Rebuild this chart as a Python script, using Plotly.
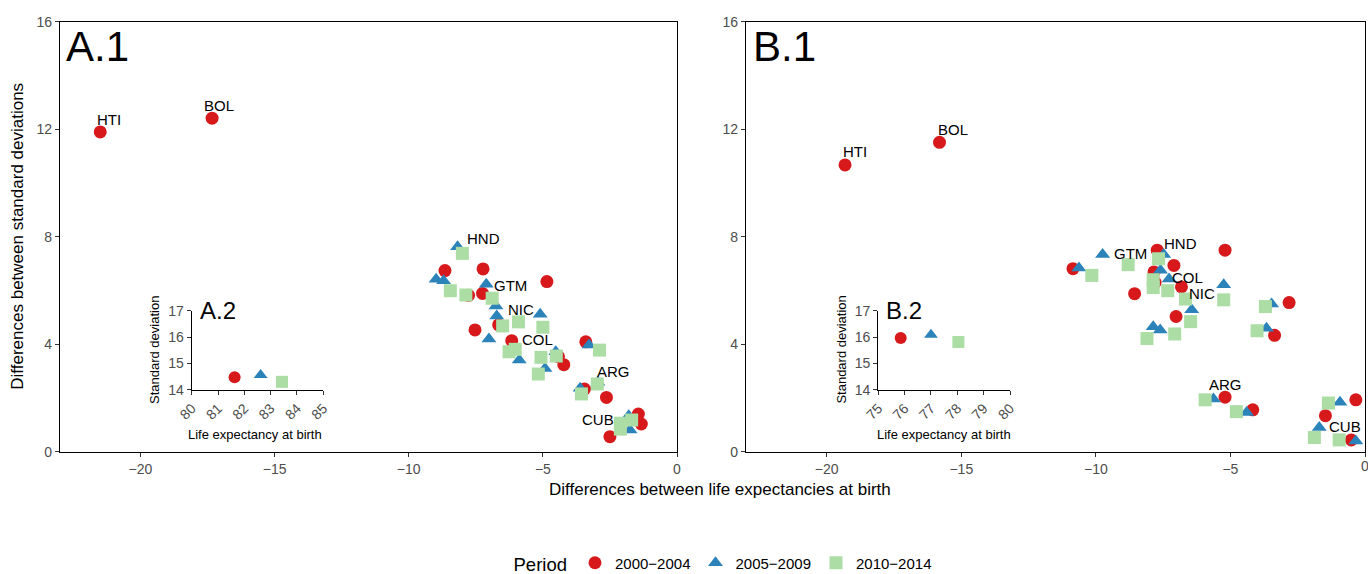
import plotly.graph_objects as go

# ---------------- data ----------------
# Panel A.1 (differences: LE vs SD), three periods
a_2000_x = [-21.5, -17.33, -8.65, -7.23, -4.85, -7.77, -7.25, -6.65, -7.53, -6.16, -4.42, -4.22, -3.40, -3.45, -2.63, -1.44, -1.33, -2.50]
a_2000_y = [11.9, 12.41, 6.74, 6.80, 6.33, 5.82, 5.89, 4.72, 4.53, 4.13, 3.54, 3.24, 4.09, 2.33, 2.02, 1.40, 1.03, 0.56]
a_2005_x = [-8.18, -8.98, -8.70, -7.11, -6.75, -6.72, -5.10, -7.01, -5.88, -4.52, -4.92, -3.28, -2.95, -3.61, -1.80, -1.75]
a_2005_y = [7.63, 6.42, 6.36, 6.23, 5.42, 5.05, 5.11, 4.19, 3.41, 3.72, 3.10, 3.97, 2.58, 2.36, 1.34, 0.81]
a_2010_x = [-8.0, -8.45, -7.87, -6.89, -6.50, -5.91, -5.0, -6.26, -6.03, -5.07, -4.5, -5.17, -2.89, -2.97, -3.56, -1.69, -2.11, -2.11]
a_2010_y = [7.38, 5.99, 5.83, 5.71, 4.68, 4.83, 4.63, 3.72, 3.81, 3.51, 3.56, 2.89, 3.78, 2.52, 2.15, 1.18, 0.84, 1.06]

# Panel B.1
b_2000_x = [-19.32, -15.81, -10.85, -7.72, -7.10, -7.84, -6.82, -8.56, -5.20, -2.82, -7.02, -3.36, -5.20, -4.17, -1.47, -0.34, -0.51, -7.8]
b_2000_y = [10.67, 11.51, 6.81, 7.5, 6.93, 6.69, 6.13, 5.88, 7.5, 5.55, 5.03, 4.33, 2.03, 1.56, 1.34, 1.93, 0.44, 6.3]
b_2005_x = [-10.63, -9.75, -7.48, -7.6, -7.28, -5.25, -3.47, -6.44, -7.87, -7.61, -3.66, -5.63, -4.40, -0.93, -1.70, -0.34]
b_2005_y = [6.84, 7.34, 7.34, 6.75, 6.43, 6.21, 5.5, 5.28, 4.65, 4.53, 4.59, 1.96, 1.46, 1.84, 0.90, 0.40]
b_2010_x = [-10.15, -8.80, -7.67, -7.87, -7.87, -7.33, -6.67, -5.25, -6.48, -7.07, -8.10, -3.70, -4.01, -5.94, -4.78, -1.36, -1.88, -0.96]
b_2010_y = [6.56, 6.96, 7.18, 6.4, 6.11, 5.99, 5.68, 5.65, 4.84, 4.38, 4.21, 5.4, 4.5, 1.93, 1.49, 1.81, 0.53, 0.44]

# Insets (reference country): life expectancy vs standard deviation
a2_le = [81.63, 82.62, 83.43]
a2_sd = [14.47, 14.56, 14.30]
b2_le = [75.85, 77.0, 78.04]
b2_sd = [15.96, 16.09, 15.81]

periods = ["2000\u22122004", "2005\u22122009", "2010\u22122014"]
colors = ["#D7191C", "#2B83BA", "#ABDDA4"]
symbols = ["circle", "triangle-up", "square"]

# Country labels
a_lab = ["HTI", "BOL", "HND", "GTM", "NIC", "COL", "ARG", "CUB"]
a_lab_x = [-21.19, -17.06, -7.23, -6.22, -5.82, -5.20, -2.37, -2.93]
a_lab_y = [12.37, 12.89, 7.95, 6.20, 5.30, 4.19, 2.98, 1.18]
b_lab = ["HTI", "BOL", "HND", "GTM", "COL", "NIC", "ARG", "CUB"]
b_lab_x = [-18.95, -15.32, -6.84, -8.72, -6.6, -6.06, -5.17, -0.73]
b_lab_y = [11.16, 12.0, 7.75, 7.38, 6.49, 5.9, 2.5, 0.93]

main_xticks = [-20, -15, -10, -5, 0]
main_xticktext = ["\u221220", "\u221215", "\u221210", "\u22125", "0"]
main_yticks = [0, 4, 8, 12, 16]
a2_xticks = [80, 81, 82, 83, 84, 85]
b2_xticks = [75, 76, 77, 78, 79, 80]
inset_yticks = [14, 15, 16, 17]

FONT = "Liberation Sans, Arial, sans-serif"
W, H = 1368, 574

fig = go.Figure()

panel_data = [
    ("x", "y", [(a_2000_x, a_2000_y), (a_2005_x, a_2005_y), (a_2010_x, a_2010_y)], True),
    ("x2", "y2", [(b_2000_x, b_2000_y), (b_2005_x, b_2005_y), (b_2010_x, b_2010_y)], False),
]
for xa, ya, series, show in panel_data:
    for i, (xs, ys) in enumerate(series):
        fig.add_trace(go.Scatter(
            x=xs, y=ys, mode="markers", xaxis=xa, yaxis=ya,
            name=periods[i], legendgroup=periods[i], showlegend=show,
            marker=dict(color=colors[i], symbol=symbols[i], size=13, line=dict(width=0)),
            cliponaxis=False,
        ))

for xa, ya, les, sds in [("x3", "y3", a2_le, a2_sd), ("x4", "y4", b2_le, b2_sd)]:
    for i in range(3):
        fig.add_trace(go.Scatter(
            x=[les[i]], y=[sds[i]], mode="markers", xaxis=xa, yaxis=ya,
            showlegend=False, legendgroup=periods[i],
            marker=dict(color=colors[i], symbol=symbols[i], size=12, line=dict(width=0)),
            cliponaxis=False,
        ))

# domains (paper fractions)
ax_a = [60 / W, 677 / W]
ax_b = [746 / W, 1365 / W]
ax_y = [(H - 451.7) / H, (H - 21.7) / H]
in_a = [191.7 / W, 323.3 / W]
in_b = [878.3 / W, 1010 / W]
in_y = [(H - 389.7) / H, (H - 310.7) / H]

main_axis = dict(showline=True, linecolor="black", linewidth=1.3, mirror=True,
                 ticks="outside", ticklen=4, tickcolor="#333333", tickwidth=1,
                 showgrid=False, zeroline=False, automargin=False, ticklabeloverflow="allow",
                 tickfont=dict(family=FONT, size=14, color="#4D4D4D"))
inset_axis = dict(showline=True, linecolor="black", linewidth=1.3, mirror=False,
                  ticks="outside", ticklen=4, tickcolor="#333333", tickwidth=1,
                  showgrid=False, zeroline=False, automargin=False, ticklabeloverflow="allow",
                  tickfont=dict(family=FONT, size=14, color="#4D4D4D"))

fig.update_layout(
    width=W, height=H,
    margin=dict(l=0, r=0, t=0, b=0, autoexpand=False),
    paper_bgcolor="white", plot_bgcolor="rgba(0,0,0,0)",
    font=dict(family=FONT, color="black"),
    xaxis=dict(domain=ax_a, range=[-23, 0], tickvals=main_xticks, ticktext=main_xticktext, anchor="y", **main_axis),
    yaxis=dict(domain=ax_y, range=[0, 16], tickvals=main_yticks, anchor="x", **main_axis),
    # panel B: last tick label ("0") would be hidden at the page edge, drawn separately below
    xaxis2=dict(domain=ax_b, range=[-23, 0], tickvals=main_xticks, ticktext=main_xticktext[:-1] + [""], anchor="y2", **main_axis),
    yaxis2=dict(domain=ax_y, range=[0, 16], tickvals=main_yticks, anchor="x2", **main_axis),
    xaxis3=dict(domain=in_a, range=[80, 85], tickvals=a2_xticks, tickangle=-45, anchor="y3", **inset_axis),
    yaxis3=dict(domain=in_y, range=[14, 17], tickvals=inset_yticks, anchor="x3", **inset_axis),
    xaxis4=dict(domain=in_b, range=[75, 80], tickvals=b2_xticks, tickangle=-45, anchor="y4", **inset_axis),
    yaxis4=dict(domain=in_y, range=[14, 17], tickvals=inset_yticks, anchor="x4", **inset_axis),
    legend=dict(orientation="h", x=724 / W, xanchor="center", y=(H - 564) / H, yanchor="middle",
                title=dict(text="Period", font=dict(family=FONT, size=18.5)),
                font=dict(family=FONT, size=15), bgcolor="rgba(0,0,0,0)",
                itemwidth=30, tracegroupgap=0),
)

ann = []
for labs, lx, ly, xr, yr in [(a_lab, a_lab_x, a_lab_y, "x", "y"), (b_lab, b_lab_x, b_lab_y, "x2", "y2")]:
    for t, xv, yv in zip(labs, lx, ly):
        ann.append(dict(text=t, x=xv, y=yv, xref=xr, yref=yr, showarrow=False,
                        font=dict(family=FONT, size=15, color="black")))

# last tick label of panel B
ann.append(dict(text=main_xticktext[-1], x=main_xticks[-1], xref="x2", y=1 - 466 / H, yref="paper",
                showarrow=False, xanchor="center", yanchor="middle",
                font=dict(family=FONT, size=14, color="#4D4D4D")))

# panel tags
ann.append(dict(text="A.1", x=64 / W, y=1 - 46 / H, xref="paper", yref="paper", xanchor="left", yanchor="middle",
                showarrow=False, font=dict(family=FONT, size=42, color="black")))
ann.append(dict(text="B.1", x=751 / W, y=1 - 46 / H, xref="paper", yref="paper", xanchor="left", yanchor="middle",
                showarrow=False, font=dict(family=FONT, size=42, color="black")))
ann.append(dict(text="A.2", x=198 / W, y=1 - 310 / H, xref="paper", yref="paper", xanchor="left", yanchor="middle",
                showarrow=False, font=dict(family=FONT, size=24, color="black")))
ann.append(dict(text="B.2", x=884 / W, y=1 - 310 / H, xref="paper", yref="paper", xanchor="left", yanchor="middle",
                showarrow=False, font=dict(family=FONT, size=24, color="black")))

# axis titles
ann.append(dict(text="Differences between standard deviations", x=18 / W, y=1 - 236.7 / H, xref="paper", yref="paper",
                textangle=-90, showarrow=False, xanchor="center", yanchor="middle",
                font=dict(family=FONT, size=17, color="black")))
ann.append(dict(text="Differences between life expectancies at birth", x=720 / W, y=1 - 489 / H, xref="paper", yref="paper",
                showarrow=False, xanchor="center", yanchor="middle",
                font=dict(family=FONT, size=17, color="black")))
for cx, sx in [(255 / W, 154 / W), (944 / W, 840.6 / W)]:
    ann.append(dict(text="Life expectancy at birth", x=cx, y=1 - 434 / H, xref="paper", yref="paper",
                    showarrow=False, xanchor="center", yanchor="middle",
                    font=dict(family=FONT, size=13, color="black")))
    ann.append(dict(text="Standard deviation", x=sx, y=1 - 350 / H, xref="paper", yref="paper",
                    textangle=-90, showarrow=False, xanchor="center", yanchor="middle",
                    font=dict(family=FONT, size=13, color="black")))

fig.update_layout(annotations=ann)
fig.write_html("out.html")
